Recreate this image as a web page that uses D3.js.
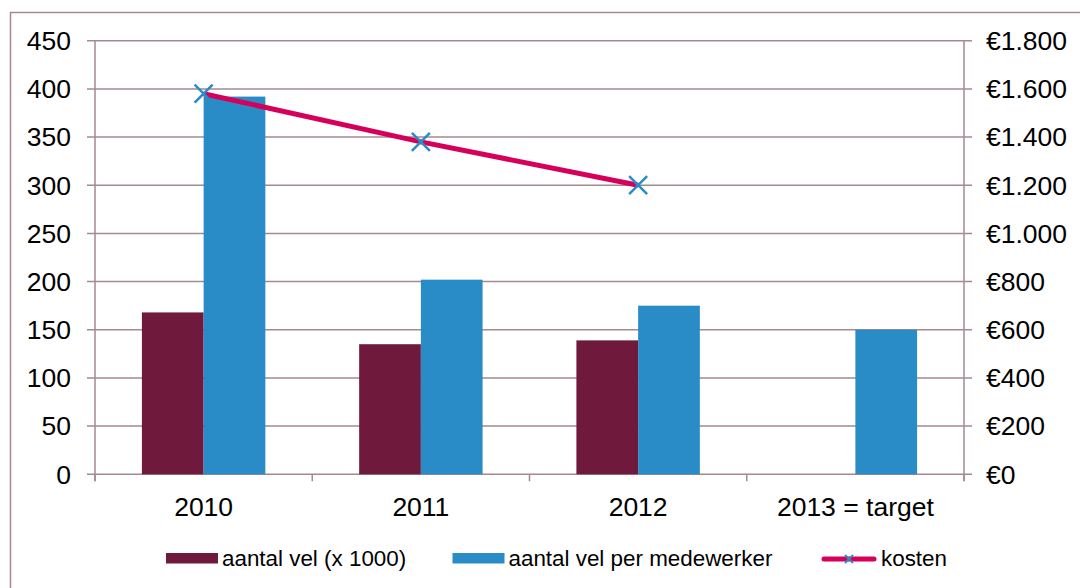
<!DOCTYPE html>
<html lang="nl">
<head>
<meta charset="UTF-8">
<title>aantal vel en kosten</title>
<script src="https://d3js.org/d3.v7.min.js"></script>
<style>
  body { margin: 0; background: #fff; }
  svg { display: block; font-family: "Liberation Sans", Arial, sans-serif; }
</style>
</head>
<body>
<script>
  // data
  const years = ["2010", "2011", "2012", "2013 = target"];
  const velDuizend = [168, 135, 139, null];        // aantal vel (x 1000)
  const velPerMedewerker = [392, 202, 175, 150];   // aantal vel per medewerker
  const kosten = [1580, 1380, 1200];               // kosten in euro (rechter as)
  const leftTicks = d3.range(0, 451, 50);
  const rightTicks = d3.range(0, 1801, 200);

  const width = 1080, height = 588;
  const plotLeft = 95, plotRight = 964, plotTop = 40.7, plotBottom = 474.3;
  const gridColor = "#a6888f";

  const svg = d3.select("body").append("svg")
    .attr("width", width)
    .attr("height", height);

  // outer frame of the chart
  svg.append("rect")
    .attr("x", 10.5).attr("y", 12.5)
    .attr("width", width).attr("height", height)
    .attr("fill", "none")
    .attr("stroke", gridColor)
    .attr("stroke-width", 1.5);

  const x = d3.scaleBand().domain(years).range([plotLeft, plotRight]);
  const x1 = d3.scaleBand().domain([0, 1]).range([0, x.bandwidth()]).paddingInner(0).paddingOuter(0.76);
  const y = d3.scaleLinear().domain([0, 450]).range([plotBottom, plotTop]);
  const y2 = d3.scaleLinear().domain([0, 1800]).range([plotBottom, plotTop]);

  // gridlines (with short ticks sticking out on both sides)
  svg.append("g").selectAll("line")
    .data(leftTicks)
    .join("line")
    .attr("x1", plotLeft - 8).attr("x2", plotRight + 8)
    .attr("y1", d => y(d)).attr("y2", d => y(d))
    .attr("stroke", gridColor)
    .attr("stroke-width", 1.5);

  // vertical axis lines
  [plotLeft, plotRight].forEach(px => {
    svg.append("line")
      .attr("x1", px).attr("x2", px)
      .attr("y1", plotTop).attr("y2", plotBottom + 7)
      .attr("stroke", gridColor)
      .attr("stroke-width", 1.5);
  });

  // x axis ticks at the category borders
  const borders = years.map(d => x(d)).concat([plotRight]);
  svg.append("g").selectAll("line")
    .data(borders)
    .join("line")
    .attr("x1", d => d).attr("x2", d => d)
    .attr("y1", plotBottom).attr("y2", plotBottom + 7)
    .attr("stroke", gridColor)
    .attr("stroke-width", 1.5);

  // left axis labels
  svg.append("g").selectAll("text")
    .data(leftTicks)
    .join("text")
    .attr("x", 71)
    .attr("y", d => y(d))
    .attr("dy", "0.35em")
    .attr("text-anchor", "end")
    .attr("font-size", 26.5)
    .text(d => d);

  // right axis labels (euro, dutch thousands separator)
  const euro = d3.formatLocale({ decimal: ",", thousands: ".", grouping: [3], currency: ["€", ""] }).format("$,.0f");
  svg.append("g").selectAll("text")
    .data(rightTicks)
    .join("text")
    .attr("x", 986)
    .attr("y", d => y2(d))
    .attr("dy", "0.35em")
    .attr("font-size", 26.5)
    .text(d => euro(d));

  // x labels
  svg.append("g").selectAll("text")
    .data(years)
    .join("text")
    .attr("x", d => x(d) + x.bandwidth() / 2)
    .attr("y", 516)
    .attr("text-anchor", "middle")
    .attr("font-size", 26.5)
    .text(d => d);

  // bars
  const series = [
    { name: "aantal vel (x 1000)", values: velDuizend, color: "#6f1a3c" },
    { name: "aantal vel per medewerker", values: velPerMedewerker, color: "#2a8cc7" }
  ];
  series.forEach((s, i) => {
    svg.append("g").selectAll("rect")
      .data(years.map((yr, j) => ({ yr, v: s.values[j] })).filter(d => d.v != null))
      .join("rect")
      .attr("x", d => x(d.yr) + x1(i))
      .attr("width", x1.bandwidth())
      .attr("y", d => y(d.v))
      .attr("height", d => plotBottom - y(d.v))
      .attr("fill", s.color);
  });

  // kosten line
  const lineColor = "#d6005b";
  const markerColor = "#2a8cc7";
  const pts = kosten.map((v, j) => [x(years[j]) + x.bandwidth() / 2, y2(v)]);
  svg.append("path")
    .attr("d", d3.line()(pts))
    .attr("fill", "none")
    .attr("stroke", lineColor)
    .attr("stroke-width", 5);

  function cross(g, cx, cy, r, w) {
    g.append("path")
      .attr("d", `M${cx - r},${cy - r}L${cx + r},${cy + r}M${cx - r},${cy + r}L${cx + r},${cy - r}`)
      .attr("stroke", markerColor)
      .attr("stroke-width", w)
      .attr("fill", "none");
  }
  pts.forEach(p => cross(svg, p[0], p[1], 9, 2.5));

  // legend
  const legend = svg.append("g").attr("font-size", 22.4);
  const legendX = [166, 452.5];
  series.forEach((s, i) => {
    legend.append("rect")
      .attr("x", legendX[i]).attr("y", 553)
      .attr("width", 52).attr("height", 10.5)
      .attr("fill", s.color);
    legend.append("text")
      .attr("x", legendX[i] + 56).attr("y", 566)
      .text(s.name);
  });
  legend.append("line")
    .attr("x1", 824).attr("x2", 874)
    .attr("y1", 559).attr("y2", 559)
    .attr("stroke", lineColor)
    .attr("stroke-width", 5)
    .attr("stroke-linecap", "round");
  cross(legend, 849, 559, 4, 1.8);
  legend.append("text")
    .attr("x", 881).attr("y", 566)
    .text("kosten");
</script>
</body>
</html>
